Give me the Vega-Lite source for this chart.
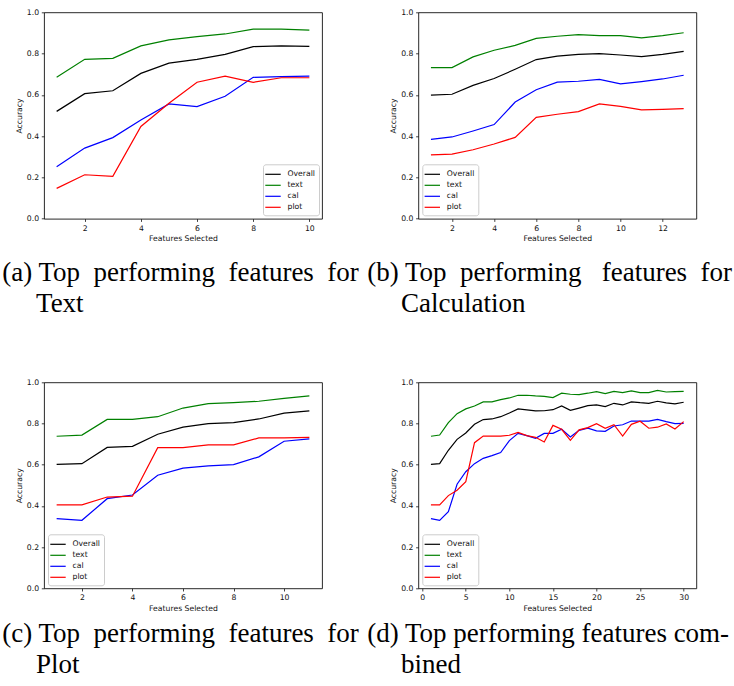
{
  "$schema": "https://vega.github.io/schema/vega-lite/v6.json",
  "padding": {"left": 1, "top": 7.3, "right": 0, "bottom": 0},
  "background": "white",
  "data": {
    "values": [
      {"p": "a", "n": 1, "Overall": 0.520, "text": 0.685, "cal": 0.252, "plot": 0.147},
      {"p": "a", "n": 2, "Overall": 0.606, "text": 0.772, "cal": 0.342, "plot": 0.213},
      {"p": "a", "n": 3, "Overall": 0.620, "text": 0.777, "cal": 0.393, "plot": 0.205},
      {"p": "a", "n": 4, "Overall": 0.704, "text": 0.837, "cal": 0.478, "plot": 0.447},
      {"p": "a", "n": 5, "Overall": 0.754, "text": 0.866, "cal": 0.556, "plot": 0.559},
      {"p": "a", "n": 6, "Overall": 0.772, "text": 0.882, "cal": 0.543, "plot": 0.661},
      {"p": "a", "n": 7, "Overall": 0.796, "text": 0.895, "cal": 0.593, "plot": 0.691},
      {"p": "a", "n": 8, "Overall": 0.834, "text": 0.918, "cal": 0.685, "plot": 0.661},
      {"p": "a", "n": 9, "Overall": 0.837, "text": 0.918, "cal": 0.688, "plot": 0.683},
      {"p": "a", "n": 10, "Overall": 0.835, "text": 0.914, "cal": 0.691, "plot": 0.683},

      {"p": "b", "n": 1, "Overall": 0.599, "text": 0.732, "cal": 0.384, "plot": 0.309},
      {"p": "b", "n": 2, "Overall": 0.603, "text": 0.732, "cal": 0.396, "plot": 0.313},
      {"p": "b", "n": 3, "Overall": 0.646, "text": 0.784, "cal": 0.425, "plot": 0.334},
      {"p": "b", "n": 4, "Overall": 0.679, "text": 0.816, "cal": 0.456, "plot": 0.362},
      {"p": "b", "n": 5, "Overall": 0.724, "text": 0.840, "cal": 0.565, "plot": 0.394},
      {"p": "b", "n": 6, "Overall": 0.771, "text": 0.874, "cal": 0.625, "plot": 0.491},
      {"p": "b", "n": 7, "Overall": 0.788, "text": 0.884, "cal": 0.662, "plot": 0.506},
      {"p": "b", "n": 8, "Overall": 0.796, "text": 0.892, "cal": 0.666, "plot": 0.519},
      {"p": "b", "n": 9, "Overall": 0.800, "text": 0.887, "cal": 0.675, "plot": 0.556},
      {"p": "b", "n": 10, "Overall": 0.793, "text": 0.887, "cal": 0.653, "plot": 0.544},
      {"p": "b", "n": 11, "Overall": 0.785, "text": 0.876, "cal": 0.664, "plot": 0.527},
      {"p": "b", "n": 12, "Overall": 0.796, "text": 0.887, "cal": 0.677, "plot": 0.530},
      {"p": "b", "n": 13, "Overall": 0.811, "text": 0.901, "cal": 0.695, "plot": 0.533},

      {"p": "c", "n": 1, "Overall": 0.602, "text": 0.738, "cal": 0.338, "plot": 0.405},
      {"p": "c", "n": 2, "Overall": 0.605, "text": 0.744, "cal": 0.330, "plot": 0.405},
      {"p": "c", "n": 3, "Overall": 0.684, "text": 0.820, "cal": 0.435, "plot": 0.443},
      {"p": "c", "n": 4, "Overall": 0.689, "text": 0.820, "cal": 0.453, "plot": 0.447},
      {"p": "c", "n": 5, "Overall": 0.748, "text": 0.833, "cal": 0.549, "plot": 0.683},
      {"p": "c", "n": 6, "Overall": 0.782, "text": 0.875, "cal": 0.583, "plot": 0.683},
      {"p": "c", "n": 7, "Overall": 0.799, "text": 0.896, "cal": 0.594, "plot": 0.696},
      {"p": "c", "n": 8, "Overall": 0.804, "text": 0.901, "cal": 0.600, "plot": 0.696},
      {"p": "c", "n": 9, "Overall": 0.822, "text": 0.908, "cal": 0.638, "plot": 0.730},
      {"p": "c", "n": 10, "Overall": 0.850, "text": 0.922, "cal": 0.714, "plot": 0.730},
      {"p": "c", "n": 11, "Overall": 0.861, "text": 0.934, "cal": 0.725, "plot": 0.733},

      {"p": "d", "n": 1, "Overall": 0.602, "text": 0.738, "cal": 0.338, "plot": 0.405},
      {"p": "d", "n": 2, "Overall": 0.605, "text": 0.744, "cal": 0.330, "plot": 0.405},
      {"p": "d", "n": 3, "Overall": 0.670, "text": 0.804, "cal": 0.372, "plot": 0.450},
      {"p": "d", "n": 4, "Overall": 0.723, "text": 0.848, "cal": 0.505, "plot": 0.476},
      {"p": "d", "n": 5, "Overall": 0.754, "text": 0.871, "cal": 0.566, "plot": 0.518},
      {"p": "d", "n": 6, "Overall": 0.796, "text": 0.885, "cal": 0.605, "plot": 0.707},
      {"p": "d", "n": 7, "Overall": 0.819, "text": 0.905, "cal": 0.631, "plot": 0.739},
      {"p": "d", "n": 8, "Overall": 0.822, "text": 0.905, "cal": 0.644, "plot": 0.739},
      {"p": "d", "n": 9, "Overall": 0.833, "text": 0.916, "cal": 0.659, "plot": 0.739},
      {"p": "d", "n": 10, "Overall": 0.851, "text": 0.924, "cal": 0.717, "plot": 0.743},
      {"p": "d", "n": 11, "Overall": 0.871, "text": 0.937, "cal": 0.752, "plot": 0.757},
      {"p": "d", "n": 12, "Overall": 0.866, "text": 0.937, "cal": 0.741, "plot": 0.741},
      {"p": "d", "n": 13, "Overall": 0.861, "text": 0.934, "cal": 0.728, "plot": 0.733},
      {"p": "d", "n": 14, "Overall": 0.862, "text": 0.932, "cal": 0.752, "plot": 0.710},
      {"p": "d", "n": 15, "Overall": 0.867, "text": 0.926, "cal": 0.752, "plot": 0.791},
      {"p": "d", "n": 16, "Overall": 0.885, "text": 0.947, "cal": 0.772, "plot": 0.772},
      {"p": "d", "n": 17, "Overall": 0.864, "text": 0.942, "cal": 0.735, "plot": 0.718},
      {"p": "d", "n": 18, "Overall": 0.875, "text": 0.940, "cal": 0.767, "plot": 0.769},
      {"p": "d", "n": 19, "Overall": 0.887, "text": 0.947, "cal": 0.777, "plot": 0.780},
      {"p": "d", "n": 20, "Overall": 0.890, "text": 0.955, "cal": 0.764, "plot": 0.799},
      {"p": "d", "n": 21, "Overall": 0.882, "text": 0.945, "cal": 0.762, "plot": 0.777},
      {"p": "d", "n": 22, "Overall": 0.898, "text": 0.956, "cal": 0.788, "plot": 0.794},
      {"p": "d", "n": 23, "Overall": 0.890, "text": 0.950, "cal": 0.794, "plot": 0.739},
      {"p": "d", "n": 24, "Overall": 0.905, "text": 0.958, "cal": 0.812, "plot": 0.796},
      {"p": "d", "n": 25, "Overall": 0.901, "text": 0.950, "cal": 0.812, "plot": 0.811},
      {"p": "d", "n": 26, "Overall": 0.898, "text": 0.950, "cal": 0.812, "plot": 0.777},
      {"p": "d", "n": 27, "Overall": 0.908, "text": 0.961, "cal": 0.820, "plot": 0.782},
      {"p": "d", "n": 28, "Overall": 0.900, "text": 0.953, "cal": 0.809, "plot": 0.798},
      {"p": "d", "n": 29, "Overall": 0.895, "text": 0.955, "cal": 0.799, "plot": 0.773},
      {"p": "d", "n": 30, "Overall": 0.903, "text": 0.956, "cal": 0.801, "plot": 0.809}
    ]
  },
  "columns": 2,
  "bounds": "flush",
  "spacing": {"row": 163, "column": 96.3},
  "concat": [
    {
      "width": 278, "height": 206.4,
      "transform": [
        {"filter": "datum.p === 'a'"},
        {"fold": ["Overall", "text", "cal", "plot"], "as": ["series", "acc"]}
      ],
      "title": {
        "text": ["(a) Top\u00a0\u00a0performing\u00a0\u00a0features\u00a0\u00a0for", "\u200b\u00a0\u00a0\u00a0\u00a0\u00a0Text"],
        "offset": 18, "dx": -41.7
      },
      "mark": {"type": "line", "strokeWidth": 1.2, "clip": true},
      "encoding": {
        "x": {"field": "n", "type": "quantitative", "title": "Features Selected",
              "scale": {"domain": [0.55, 10.45], "nice": false, "zero": false},
              "axis": {"values": [2, 4, 6, 8, 10], "format": "d"}},
        "y": {"field": "acc", "type": "quantitative", "title": "Accuracy",
              "scale": {"domain": [0, 1], "nice": false},
              "axis": {"values": [0, 0.2, 0.4, 0.6, 0.8, 1], "format": ".1f"}},
        "color": {"field": "series", "type": "nominal",
                  "scale": {"domain": ["Overall", "text", "cal", "plot"], "range": ["#000000", "#008000", "#0000ff", "#ff0000"]},
                  "legend": {"orient": "bottom-right", "title": null}}
      }
    },
    {
      "width": 278, "height": 206.4,
      "transform": [
        {"filter": "datum.p === 'b'"},
        {"fold": ["Overall", "text", "cal", "plot"], "as": ["series", "acc"]}
      ],
      "title": {
        "text": ["(b) Top\u00a0\u00a0performing\u00a0\u00a0\u00a0features\u00a0\u00a0for", "\u200b\u00a0\u00a0\u00a0\u00a0\u00a0Calculation"],
        "offset": 18, "dx": -51
      },
      "mark": {"type": "line", "strokeWidth": 1.2, "clip": true},
      "encoding": {
        "x": {"field": "n", "type": "quantitative", "title": "Features Selected",
              "scale": {"domain": [0.4, 13.6], "nice": false, "zero": false},
              "axis": {"values": [2, 4, 6, 8, 10, 12], "format": "d"}},
        "y": {"field": "acc", "type": "quantitative", "title": "Accuracy",
              "scale": {"domain": [0, 1], "nice": false},
              "axis": {"values": [0, 0.2, 0.4, 0.6, 0.8, 1], "format": ".1f"}},
        "color": {"field": "series", "type": "nominal",
                  "scale": {"domain": ["Overall", "text", "cal", "plot"], "range": ["#000000", "#008000", "#0000ff", "#ff0000"]},
                  "legend": {"orient": "bottom-left", "title": null}}
      }
    },
    {
      "width": 278, "height": 206,
      "transform": [
        {"filter": "datum.p === 'c'"},
        {"fold": ["Overall", "text", "cal", "plot"], "as": ["series", "acc"]}
      ],
      "title": {
        "text": ["(c) Top\u00a0\u00a0performing\u00a0\u00a0features\u00a0\u00a0for", "\u200b\u00a0\u00a0\u00a0\u00a0\u00a0Plot"],
        "offset": 9, "dx": -41.7
      },
      "mark": {"type": "line", "strokeWidth": 1.2, "clip": true},
      "encoding": {
        "x": {"field": "n", "type": "quantitative", "title": "Features Selected",
              "scale": {"domain": [0.5, 11.5], "nice": false, "zero": false},
              "axis": {"values": [2, 4, 6, 8, 10], "format": "d"}},
        "y": {"field": "acc", "type": "quantitative", "title": "Accuracy",
              "scale": {"domain": [0, 1], "nice": false},
              "axis": {"values": [0, 0.2, 0.4, 0.6, 0.8, 1], "format": ".1f"}},
        "color": {"field": "series", "type": "nominal",
                  "scale": {"domain": ["Overall", "text", "cal", "plot"], "range": ["#000000", "#008000", "#0000ff", "#ff0000"]},
                  "legend": {"orient": "bottom-left", "title": null}}
      }
    },
    {
      "width": 278, "height": 206,
      "transform": [
        {"filter": "datum.p === 'd'"},
        {"fold": ["Overall", "text", "cal", "plot"], "as": ["series", "acc"]}
      ],
      "title": {
        "text": ["(d) Top performing features com-", "\u200b\u00a0\u00a0\u00a0\u00a0\u00a0bined"],
        "offset": 9, "dx": -51
      },
      "mark": {"type": "line", "strokeWidth": 1.2, "clip": true},
      "encoding": {
        "x": {"field": "n", "type": "quantitative", "title": "Features Selected",
              "scale": {"domain": [-0.45, 31.45], "nice": false, "zero": false},
              "axis": {"values": [0, 5, 10, 15, 20, 25, 30], "format": "d"}},
        "y": {"field": "acc", "type": "quantitative", "title": "Accuracy",
              "scale": {"domain": [0, 1], "nice": false},
              "axis": {"values": [0, 0.2, 0.4, 0.6, 0.8, 1], "format": ".1f"}},
        "color": {"field": "series", "type": "nominal",
                  "scale": {"domain": ["Overall", "text", "cal", "plot"], "range": ["#000000", "#008000", "#0000ff", "#ff0000"]},
                  "legend": {"orient": "bottom-left", "title": null}}
      }
    }
  ],
  "resolve": {"scale": {"x": "independent", "y": "independent", "color": "independent"}},
  "config": {
    "view": {"stroke": "#111111", "strokeWidth": 0.9},
    "axis": {
      "grid": false, "domain": false,
      "labelFont": "DejaVu Sans", "labelFontSize": 7.7, "labelColor": "#111111",
      "labelFlush": false, "labelOverlap": false, "labelPadding": 2.7,
      "tickColor": "#111111", "tickSize": 2.7, "tickWidth": 0.8,
      "titleFont": "DejaVu Sans", "titleFontSize": 7.7, "titleFontWeight": "normal",
      "titleColor": "#111111", "titlePadding": 3
    },
    "legend": {
      "labelFont": "DejaVu Sans", "labelFontSize": 7.7, "labelColor": "#111111",
      "fillColor": "white", "strokeColor": "#cccccc", "cornerRadius": 2.5,
      "padding": 3.5, "rowPadding": 0, "offset": 3.5,
      "symbolType": "M-1.4,0H1.4", "symbolSize": 121, "symbolStrokeWidth": 1.2,
      "labelOffset": 8
    },
    "title": {
      "orient": "bottom", "anchor": "start", "frame": "group",
      "font": "Liberation Serif", "fontSize": 27, "fontWeight": "normal",
      "color": "#000000", "lineHeight": 31
    }
  }
}
